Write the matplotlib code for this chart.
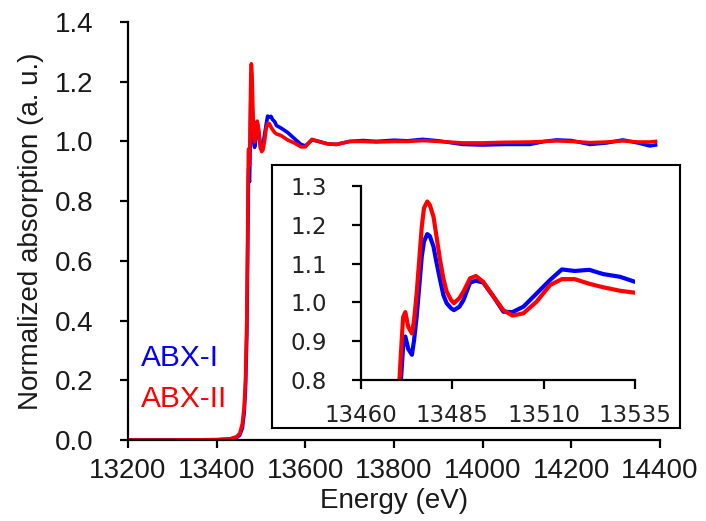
import numpy as np
import matplotlib
matplotlib.use("Agg")
import matplotlib.pyplot as plt

plt.rcParams['font.family'] = ['Liberation Sans', 'DejaVu Sans']

# energy grid (eV), shared by both samples
energy = [13200, 13300, 13400, 13430, 13445, 13452, 13458, 13462, 13465, 13468,
          13470.6, 13471.0, 13471.6, 13472.2, 13473.0, 13474.0, 13474.6, 13475.3,
          13476.0, 13476.7, 13477.3, 13478.2, 13478.9, 13479.9, 13480.6, 13481.7,
          13482.6, 13483.5, 13484.7, 13485.5, 13487.0, 13488.1, 13489.9, 13491.5,
          13493.5, 13496.3, 13499.0, 13501.5, 13504.5, 13508.1, 13511.8, 13515.0,
          13518.5, 13522.5, 13526.3, 13530.9, 13535, 13545, 13560, 13575, 13590,
          13600, 13615, 13630, 13650, 13670, 13700, 13730, 13760, 13800, 13830,
          13865, 13900, 13955, 14000, 14050, 14106, 14140, 14167, 14200, 14242,
          14280, 14316, 14350, 14377, 14390]

abx1 = [0.0, 0.0, 0.001, 0.003, 0.008, 0.016, 0.04, 0.09, 0.17, 0.35,
        0.72, 0.80, 0.886, 0.912, 0.88, 0.865, 0.903, 0.963,
        1.04, 1.118, 1.157, 1.176, 1.171, 1.144, 1.109, 1.058,
        1.019, 0.998, 0.985, 0.98, 0.989, 1.006, 1.051, 1.056,
        1.051, 1.015, 0.976, 0.975, 0.989, 1.023, 1.058, 1.085,
        1.081, 1.084, 1.073, 1.066, 1.053, 1.045, 1.03, 1.01, 0.99,
        0.985, 1.005, 1.0, 0.992, 0.99, 1.0, 1.003, 1.0, 1.004, 1.002,
        1.007, 1.002, 0.99, 0.988, 0.99, 0.99, 1.0, 1.005, 1.003, 0.99,
        0.995, 1.005, 0.995, 0.985, 0.988]

abx2 = [0.0, 0.0, 0.001, 0.004, 0.011, 0.022, 0.055, 0.11, 0.2, 0.41,
        0.80, 0.87, 0.962, 0.975, 0.937, 0.92, 0.955, 1.023,
        1.109, 1.195, 1.243, 1.26, 1.251, 1.221, 1.178, 1.109,
        1.062, 1.028, 1.006, 0.998, 1.011, 1.028, 1.062, 1.068,
        1.053, 1.015, 0.98, 0.966, 0.972, 1.002, 1.045, 1.06,
        1.06, 1.048, 1.039, 1.030, 1.025, 1.02, 1.005, 0.995, 0.982,
        0.982, 1.007, 1.0, 0.992, 0.99, 1.0, 1.0, 0.998, 1.0, 1.0,
        1.003, 1.0, 0.995, 0.995, 0.997, 0.998, 1.0, 1.002, 1.0, 0.996,
        0.998, 1.002, 0.998, 0.998, 1.0]

main_xticks = [13200, 13400, 13600, 13800, 14000, 14200, 14400]
main_yticks = [0.0, 0.2, 0.4, 0.6, 0.8, 1.0, 1.2, 1.4]
inset_xticks = [13460, 13485, 13510, 13535]
inset_yticks = [0.8, 0.9, 1.0, 1.1, 1.2, 1.3]

BLUE = '#0000ff'
RED = '#ff0000'


def style_axes(ax, fs, ypad, xpad, ticklen):
    for s in ['top', 'right']:
        ax.spines[s].set_visible(False)
    for s in ['left', 'bottom']:
        ax.spines[s].set_linewidth(1.6)
    ax.tick_params(direction='out', length=ticklen, width=1.6, labelsize=fs)
    ax.tick_params(axis='y', pad=ypad)
    ax.tick_params(axis='x', pad=xpad)


fig = plt.figure(figsize=(7.06, 5.21), dpi=100)

ax = fig.add_axes([128/706, 1 - 440/521, (660-128)/706, (440-22)/521])
ax.plot(energy, abx1, color=BLUE, lw=2.6, solid_joinstyle='round')
ax.plot(energy, abx2, color=RED, lw=2.6, solid_joinstyle='round')
ax.set_xlim(13200, 14400)
ax.set_ylim(0, 1.4)
ax.set_xticks(main_xticks)
ax.set_yticks(main_yticks)
ax.set_yticklabels([f"{v:.1f}" for v in main_yticks])
style_axes(ax, 20, 19, 7, 6)
for lab in ax.get_xticklabels() + ax.get_yticklabels():
    lab.set_color('#1a1a1a')
ax.set_xlabel("Energy (eV)", fontsize=20, labelpad=3, color='#1a1a1a')
ax.set_ylabel("Normalized absorption (a. u.)", fontsize=20, labelpad=8, color='#1a1a1a')

ax.text(0.025, 0.195, "ABX-I", color=BLUE, fontsize=21.5, transform=ax.transAxes, va='center')
ax.text(0.025, 0.098, "ABX-II", color=RED, fontsize=21.5, transform=ax.transAxes, va='center')

# inset frame
frame = fig.add_axes([272/706, 1 - 428/521, 408/706, 263/521])
frame.set_xticks([])
frame.set_yticks([])
for s in frame.spines.values():
    s.set_linewidth(1.5)

ins = fig.add_axes([360.7/706, 1 - 380/521, (635-360.7)/706, (380-186)/521])
ins.patch.set_alpha(0)
ins.plot(energy, abx1, color=BLUE, lw=3.0, solid_joinstyle='round')
ins.plot(energy, abx2, color=RED, lw=3.0, solid_joinstyle='round')
ins.set_xlim(13460, 13535)
ins.set_ylim(0.8, 1.3)
ins.set_xticks(inset_xticks)
ins.set_yticks(inset_yticks)
ins.set_yticklabels([f"{v:.1f}" for v in inset_yticks])
style_axes(ins, 16.5, 18, 11, 6.5)
for lab in ins.get_xticklabels() + ins.get_yticklabels():
    lab.set_family('DejaVu Sans')
    lab.set_color('#222222')

fig.savefig("out.png", dpi=100)
